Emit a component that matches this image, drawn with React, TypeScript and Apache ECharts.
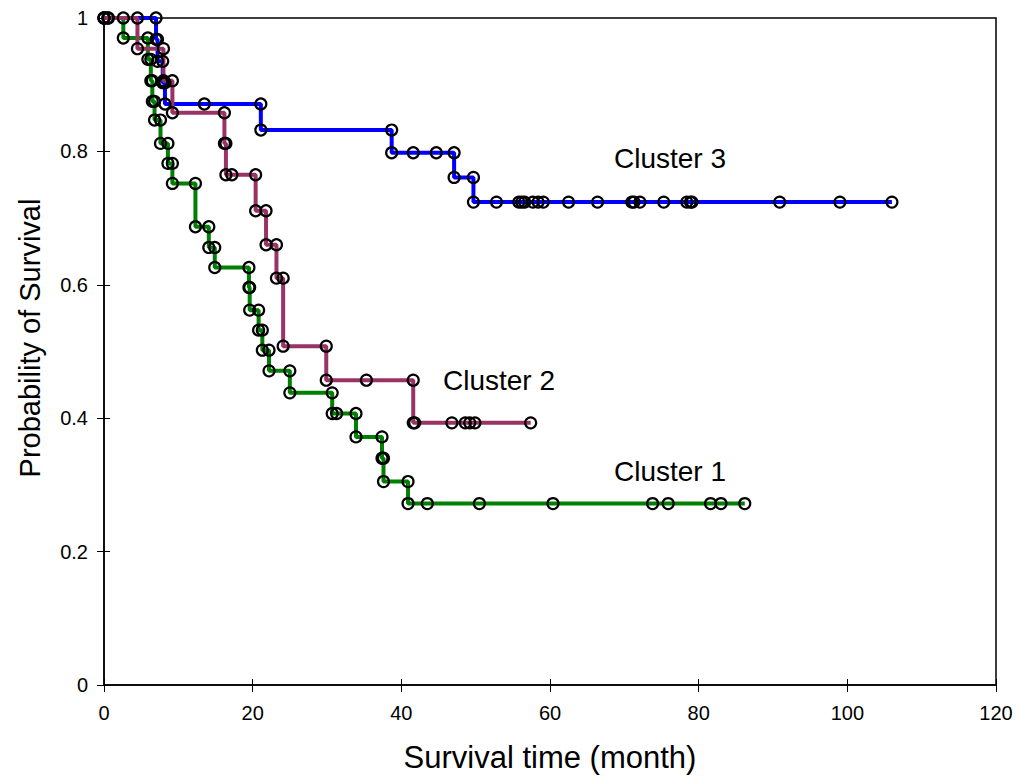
import React, { useEffect, useRef } from "react";
import * as echarts from "echarts";

// Kaplan-Meier step curves: [time (month), probability of survival]
const cluster1Points: [number, number][] = [
  [0, 1], [0.6, 1], [2.6, 1], [2.6, 0.97], [5.9, 0.97], [5.9, 0.938], [6.3, 0.938], [6.3, 0.906],
  [6.5, 0.906], [6.5, 0.875], [6.8, 0.875], [6.8, 0.847], [7.6, 0.847], [7.6, 0.812], [8.6, 0.812],
  [8.6, 0.782], [9.2, 0.782], [9.2, 0.752], [12.3, 0.752], [12.3, 0.687], [14.1, 0.687], [14.1, 0.656],
  [14.9, 0.656], [14.9, 0.626], [19.5, 0.626], [19.5, 0.596], [19.6, 0.596], [19.6, 0.562], [20.8, 0.562],
  [20.8, 0.532], [21.3, 0.532], [21.3, 0.502], [22.2, 0.502], [22.2, 0.471], [25.0, 0.471], [25.0, 0.438],
  [30.7, 0.438], [30.7, 0.407], [31.3, 0.407], [33.9, 0.407], [33.9, 0.372], [37.4, 0.372], [37.4, 0.34],
  [37.6, 0.34], [37.6, 0.305], [40.9, 0.305], [40.9, 0.272], [43.5, 0.272], [50.5, 0.272], [60.4, 0.272],
  [73.8, 0.272], [75.9, 0.272], [81.6, 0.272], [83.0, 0.272], [86.2, 0.272],
];

const cluster2Points: [number, number][] = [
  [0, 1], [4.5, 1], [4.5, 0.954], [8.0, 0.954], [8.0, 0.906], [9.2, 0.906], [9.2, 0.858], [16.2, 0.858],
  [16.2, 0.812], [16.4, 0.812], [16.4, 0.765], [17.2, 0.765], [20.4, 0.765], [20.4, 0.711], [21.8, 0.711],
  [21.8, 0.66], [23.2, 0.66], [23.2, 0.61], [24.1, 0.61], [24.1, 0.508], [29.9, 0.508], [29.9, 0.457],
  [35.3, 0.457], [41.6, 0.457], [41.6, 0.393], [41.8, 0.393], [46.8, 0.393], [48.6, 0.393], [49.2, 0.393],
  [49.9, 0.393], [57.4, 0.393],
];

const cluster3Points: [number, number][] = [
  [0, 1], [0.5, 1], [7.0, 1], [7.0, 0.968], [7.2, 0.968], [7.2, 0.935], [7.9, 0.935], [7.9, 0.903],
  [8.2, 0.903], [8.2, 0.871], [13.5, 0.871], [21.1, 0.871], [21.1, 0.832], [38.7, 0.832], [38.7, 0.798],
  [41.6, 0.798], [44.7, 0.798], [47.1, 0.798], [47.1, 0.761], [49.7, 0.761], [49.7, 0.724], [52.8, 0.724],
  [55.8, 0.724], [56.2, 0.724], [56.6, 0.724], [57.7, 0.724], [58.4, 0.724], [59.1, 0.724], [62.5, 0.724],
  [66.4, 0.724], [71.0, 0.724], [71.3, 0.724], [72.1, 0.724], [75.3, 0.724], [78.4, 0.724], [78.9, 0.724],
  [79.1, 0.724], [90.9, 0.724], [99.0, 0.724], [106.0, 0.724],
];

const seriesNames = ["Cluster 1", "Cluster 2", "Cluster 3"];
const seriesColors = ["#008000", "#993366", "#0000FF"];
const xTitle = "Survival time (month)";
const yTitle = "Probability of Survival";

const FONT = '"Liberation Sans", Arial, sans-serif';

export default function App() {
  const ref = useRef<HTMLDivElement>(null);

  useEffect(() => {
    document.body.style.margin = "0";
    const chart = echarts.init(ref.current!, null, { renderer: "svg" });

    const mkSeries = (name: string, color: string, pts: [number, number][]) => ({
      name,
      type: "line",
      data: pts,
      xAxisIndex: 0,
      yAxisIndex: 0,
      symbol: "circle",
      symbolSize: 11,
      showSymbol: true,
      showAllSymbol: true,
      lineStyle: { color, width: 4 },
      itemStyle: { color: "rgba(0,0,0,0)", borderColor: "#000", borderWidth: 2.2 },
      emphasis: { disabled: true },
      z: 2,
    });

    const axisCommon = {
      type: "value",
      splitLine: { show: false },
    };

    const option: any = {
      animation: false,
      backgroundColor: "#fff",
      grid: {
        left: 104,
        right: 23,
        top: 18,
        bottom: 91,
        show: true,
        borderColor: "#000",
        borderWidth: 1.5,
        containLabel: false,
        outerBoundsMode: "none",
      },
      xAxis: [
        {
          ...axisCommon,
          min: 0,
          max: 120,
          interval: 20,
          position: "bottom",
          axisLine: { show: true, onZero: false, lineStyle: { color: "#000", width: 1.5 } },
          axisTick: { show: true, inside: false, length: 7, lineStyle: { color: "#000", width: 1 } },
          axisLabel: { fontSize: 20, color: "#000", margin: 18, fontFamily: FONT },
        },
        {
          ...axisCommon,
          min: 0,
          max: 120,
          interval: 20,
          position: "bottom",
          axisLine: { show: false },
          axisTick: { show: true, inside: true, length: 6, lineStyle: { color: "#000", width: 1 } },
          axisLabel: { show: false },
        },
      ],
      yAxis: [
        {
          ...axisCommon,
          min: 0,
          max: 1,
          interval: 0.2,
          position: "left",
          axisLine: { show: true, onZero: false, lineStyle: { color: "#000", width: 1.5 } },
          axisTick: { show: true, inside: false, length: 7, lineStyle: { color: "#000", width: 1 } },
          axisLabel: { fontSize: 20, color: "#000", margin: 16, fontFamily: FONT },
        },
        {
          ...axisCommon,
          min: 0,
          max: 1,
          interval: 0.2,
          position: "left",
          axisLine: { show: false },
          axisTick: { show: true, inside: true, length: 6, lineStyle: { color: "#000", width: 1 } },
          axisLabel: { show: false },
        },
      ],
      series: [
        mkSeries(seriesNames[2], seriesColors[2], cluster3Points),
        mkSeries(seriesNames[0], seriesColors[0], cluster1Points),
        mkSeries(seriesNames[1], seriesColors[1], cluster2Points),
      ],
      graphic: [
        {
          type: "text",
          x: 614,
          y: 158,
          style: { text: seriesNames[2], font: `28px ${FONT}`, fill: "#000", align: "left", verticalAlign: "middle" },
        },
        {
          type: "text",
          x: 443,
          y: 380,
          style: { text: seriesNames[1], font: `28px ${FONT}`, fill: "#000", align: "left", verticalAlign: "middle" },
        },
        {
          type: "text",
          x: 614,
          y: 471,
          style: { text: seriesNames[0], font: `28px ${FONT}`, fill: "#000", align: "left", verticalAlign: "middle" },
        },
        {
          type: "text",
          x: 550,
          y: 757,
          style: { text: xTitle, font: `31px ${FONT}`, fill: "#000", align: "center", verticalAlign: "middle" },
        },
        {
          type: "text",
          x: 30,
          y: 338,
          rotation: Math.PI / 2,
          style: { text: yTitle, font: `29px ${FONT}`, fill: "#000", align: "center", verticalAlign: "middle" },
        },
      ],
    };

    chart.setOption(option);
    return () => chart.dispose();
  }, []);

  return <div ref={ref} style={{ width: 1019, height: 776 }} />;
}
